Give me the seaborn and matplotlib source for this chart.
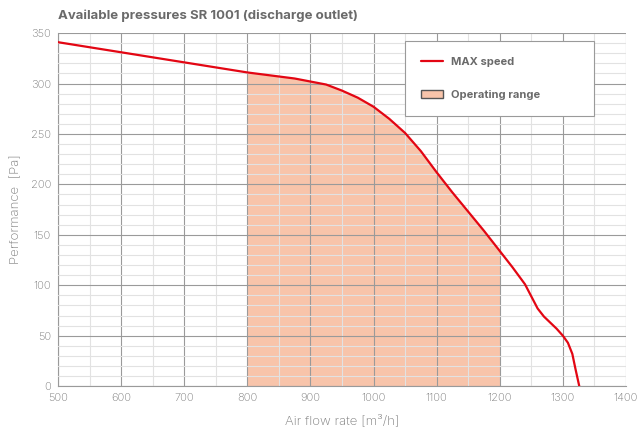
import numpy as np
import pandas as pd
import matplotlib
matplotlib.use('Agg')
import matplotlib.pyplot as plt
from matplotlib.patches import Patch
from matplotlib.ticker import MultipleLocator
import seaborn as sns

# Curve (air flow rate vs available pressure)
flow = [500, 550, 600, 650, 700, 750, 800, 850, 875, 900, 925, 950, 975, 1000,
        1025, 1050, 1075, 1100, 1125, 1150, 1175, 1200, 1220, 1240, 1250, 1260,
        1270, 1280, 1290, 1300, 1308, 1315, 1320, 1326]
pressure = [341, 336, 331, 326, 321, 316, 311, 307, 305, 302, 299, 293, 286, 277,
            265, 251, 233, 212, 192, 173, 154, 134, 118, 101, 89, 77,
            69, 63, 57, 50, 43, 32, 17, 0]

range_lo = 800
range_hi = 1200

df = pd.DataFrame({'flow': flow, 'pressure': pressure})

sns.set_style('white')
plt.rcParams['font.family'] = ['Inter', 'DejaVu Sans']

fig = plt.figure(figsize=(6.44, 4.30), dpi=100)
ax = fig.add_axes([0.090, 0.102, 0.882, 0.821])

# Operating range fill
sub = df[(df['flow'] >= range_lo) & (df['flow'] <= range_hi)]
ax.fill_between(sub['flow'], 0, sub['pressure'], color='#f8c4aa', linewidth=0, zorder=1)

sns.lineplot(data=df, x='flow', y='pressure', color='#e30613', linewidth=1.6,
             ax=ax, zorder=3)

ax.set_xlim(500, 1400)
ax.set_ylim(0, 350)
ax.xaxis.set_major_locator(MultipleLocator(100))
ax.xaxis.set_minor_locator(MultipleLocator(50))
ax.yaxis.set_major_locator(MultipleLocator(50))
ax.yaxis.set_minor_locator(MultipleLocator(10))

ax.grid(which='major', color='#9a9a9a', linewidth=0.8)
ax.grid(which='minor', color='#e2e2e2', linewidth=0.8)
ax.set_axisbelow(False)
for line in ax.get_xgridlines() + ax.get_ygridlines():
    line.set_zorder(2)

for side in ['top', 'right']:
    ax.spines[side].set_visible(False)
for side in ['left', 'bottom']:
    ax.spines[side].set_color('#9a9a9a')
    ax.spines[side].set_linewidth(0.8)

ax.tick_params(which='major', length=4, width=0.8, color='#9a9a9a',
               labelsize=8, labelcolor='#7a7a7a', pad=1)
ax.tick_params(which='minor', length=0)
for lbl in ax.get_xticklabels() + ax.get_yticklabels():
    lbl.set_fontweight('light')

ax.set_xlabel('Air flow rate [m³/h]', fontsize=9.5, color='#7a7a7a', labelpad=8,
              fontweight='light')
ax.set_ylabel('Performance  [Pa]', fontsize=9.5, color='#7a7a7a', labelpad=6,
              fontweight='light')

fig.text(0.090, 0.948, 'Available pressures SR 1001 (discharge outlet)',
         fontsize=9.5, fontweight='bold', color='#6a6a6a', ha='left', va='bottom')

handles = [plt.Line2D([0], [0], color='#e30613', linewidth=1.6),
           Patch(facecolor='#f8c4aa', edgecolor='#555555', linewidth=1)]
leg = ax.legend(handles, ['MAX speed', 'Operating range'],
                loc='upper left', bbox_to_anchor=(0.611, 0.773, 0.333, 0.204),
                mode='expand', borderaxespad=0,
                frameon=True, fancybox=False, borderpad=1.45, labelspacing=2.0,
                handlelength=2.0, handletextpad=0.7,
                prop={'weight': 'bold', 'size': 8})
leg.get_frame().set_edgecolor('#9a9a9a')
leg.get_frame().set_linewidth(0.8)
leg.get_frame().set_facecolor('white')
leg.get_frame().set_alpha(1)
leg.set_zorder(5)
for t in leg.get_texts():
    t.set_color('#6a6a6a')

fig.savefig('out.png', dpi=100)
